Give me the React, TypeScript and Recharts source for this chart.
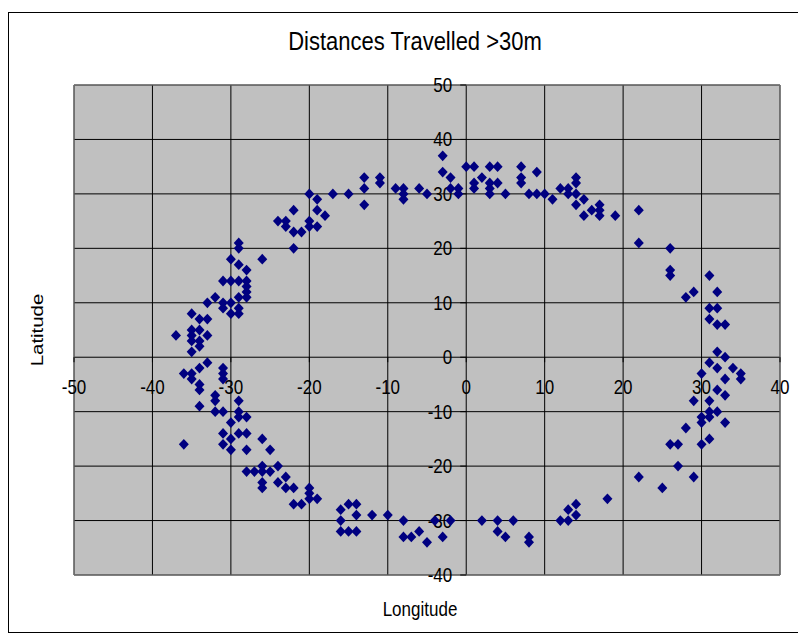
import React from 'react';
import {
  ScatterChart,
  Scatter,
  XAxis,
  YAxis,
  CartesianGrid,
  ReferenceDot,
  ReferenceArea,
} from 'recharts';

const chartTitle = 'Distances Travelled >30m';
const xAxisTitle = 'Longitude';
const yAxisTitle = 'Latitude';

const xTicks = [-50, -40, -30, -20, -10, 0, 10, 20, 30, 40];
const yTicks = [-40, -30, -20, -10, 0, 10, 20, 30, 40, 50];

// [longitude, latitude]
const northWest: [number, number][] = [
  [-29, 21], [-29, 20], [-30, 18], [-26, 18], [-29, 17], [-28, 16],
  [-24, 25], [-23, 25], [-23, 24], [-22, 27], [-22, 23], [-22, 20], [-21, 23],
  [-20, 30], [-20, 25], [-20, 24], [-19, 29], [-19, 27], [-19, 24], [-18, 26], [-17, 30],
];

const west: [number, number][] = [
  [-31, 14], [-30, 14], [-29, 14], [-28, 14], [-28, 13], [-28, 12], [-28, 11], [-29, 11],
  [-32, 11], [-33, 10], [-31, 10], [-30, 10], [-31, 9], [-29, 9], [-30, 8], [-29, 8],
  [-35, 8], [-34, 7], [-33, 7], [-35, 5], [-34, 5], [-37, 4], [-35, 4], [-33, 4],
  [-34, 3], [-35, 3], [-34, 2], [-35, 1], [-33, -1], [-31, -2], [-34, -2], [-36, -3],
  [-35, -3], [-35, -4], [-31, -3], [-31, -4], [-34, -5], [-34, -6], [-34, -9], [-32, -7],
  [-32, -8], [-32, -10], [-31, -10],
];

const southWest: [number, number][] = [
  [-29, -8], [-29, -10], [-29, -11], [-28, -11], [-30, -12], [-31, -14], [-30, -15],
  [-29, -14], [-28, -14], [-31, -16], [-30, -17], [-28, -17], [-36, -16], [-26, -15],
  [-25, -17], [-28, -21], [-27, -21], [-26, -20], [-26, -21], [-25, -21], [-24, -20],
  [-26, -23], [-26, -24], [-24, -23], [-23, -22], [-23, -24], [-22, -24], [-22, -27],
  [-21, -27], [-20, -24], [-20, -25], [-20, -26], [-19, -26],
];

const north: [number, number][] = [
  [-15, 30], [-13, 33], [-13, 31], [-13, 28], [-11, 33], [-11, 32], [-9, 31], [-8, 31],
  [-8, 30], [-8, 29], [-6, 31], [-5, 30], [-3, 37], [-3, 34], [-2, 33], [-2, 31],
  [-1, 31], [-1, 30], [0, 35], [1, 35], [1, 32], [1, 31], [2, 33], [3, 35], [4, 35],
  [3, 32], [3, 31], [3, 30], [4, 32], [5, 30], [7, 35], [7, 33], [7, 32], [8, 30],
  [9, 34], [9, 30], [10, 30], [11, 29], [12, 31], [13, 31], [13, 30], [14, 33], [14, 32],
  [14, 30], [14, 28], [15, 29], [15, 26], [16, 27], [17, 28], [17, 27], [17, 26],
  [19, 26], [22, 27],
];

const east: [number, number][] = [
  [22, 21], [26, 20], [26, 16], [26, 15], [29, 12], [28, 11], [31, 15], [32, 12],
  [31, 9], [32, 9], [31, 7], [32, 6], [33, 6], [32, 1], [33, 0], [31, -1], [32, -2],
  [34, -2], [35, -3], [35, -4], [30, -3], [33, -4], [32, -6], [33, -7], [29, -8],
  [31, -8], [31, -10], [32, -10], [30, -11], [30, -12], [31, -11], [33, -12], [28, -13],
  [26, -16], [27, -16], [30, -16], [31, -15], [27, -20],
];

const south: [number, number][] = [
  [-16, -28], [-15, -27], [-14, -27], [-16, -30], [-14, -29], [-16, -32], [-15, -32],
  [-14, -32], [-12, -29], [-10, -29], [-8, -30], [-8, -33], [-7, -33], [-6, -32],
  [-5, -34], [-4, -30], [-3, -33], [-2, -30], [2, -30], [4, -30], [4, -32], [5, -33],
  [6, -30], [8, -33], [8, -34], [12, -30], [13, -30], [13, -28], [14, -27], [14, -29],
  [18, -26], [22, -22], [29, -22], [25, -24],
];

const points = [...northWest, ...west, ...southWest, ...north, ...east, ...south].map(
  ([lon, lat]) => ({ lon, lat })
);

const FONT = '"Liberation Sans", Arial, Helvetica, sans-serif';
const STRETCH = 1.2;

const Diamond = (props: any) => {
  const { cx, cy } = props;
  const rx = 5;
  const ry = 5.4;
  return (
    <polygon
      points={`${cx},${cy - ry} ${cx + rx},${cy} ${cx},${cy + ry} ${cx - rx},${cy}`}
      fill="#000080"
    />
  );
};

const XTick = ({ cx, cy, label }: any) => (
  <g>
    <line x1={cx} y1={cy} x2={cx} y2={cy + 5} stroke="#000" strokeWidth={1} />
    <text
      transform={`translate(${cx},${cy + 37}) scale(1,${STRETCH})`}
      textAnchor="middle"
      fontFamily={FONT}
      fontSize={17}
      fill="#000"
    >
      {label}
    </text>
  </g>
);

const YTick = ({ cx, cy, label }: any) => (
  <g>
    <line x1={cx - 6} y1={cy} x2={cx} y2={cy} stroke="#000" strokeWidth={1} />
    <text
      transform={`translate(${cx - 14},${cy + 7}) scale(1,${STRETCH})`}
      textAnchor="end"
      fontFamily={FONT}
      fontSize={17}
      fill="#000"
    >
      {label}
    </text>
  </g>
);

export default function App() {
  return (
    <div
      style={{
        position: 'relative',
        width: 789,
        height: 619,
        border: '1px solid #000',
        marginTop: 4,
        background: '#fff',
        fontFamily: FONT,
      }}
    >
      <ScatterChart
        width={789}
        height={619}
        margin={{ top: 72, right: 18, bottom: 57, left: 65 }}
      >
        <CartesianGrid
          stroke="#000"
          strokeWidth={1}
          fill="#c0c0c0"
          fillOpacity={1}
          verticalValues={xTicks}
          horizontalValues={yTicks}
        />
        <XAxis
          type="number"
          dataKey="lon"
          domain={[-50, 40]}
          ticks={xTicks}
          axisLine={false}
          tickLine={false}
          tick={() => null}
          height={0}
        />
        <YAxis
          type="number"
          dataKey="lat"
          domain={[-40, 50]}
          ticks={yTicks}
          axisLine={false}
          tickLine={false}
          tick={() => null}
          width={0}
        />
        <ReferenceArea
          x1={-50}
          x2={40}
          y1={-40}
          y2={50}
          fill="none"
          fillOpacity={0}
          stroke="#808080"
          strokeWidth={1}
          ifOverflow="visible"
        />
        {xTicks.map((t) => (
          <ReferenceDot
            key={`x${t}`}
            x={t}
            y={0}
            r={1}
            ifOverflow="visible"
            shape={(p: any) => <XTick cx={p.cx} cy={p.cy} label={String(t)} />}
          />
        ))}
        {yTicks.map((t) => (
          <ReferenceDot
            key={`y${t}`}
            x={0}
            y={t}
            r={1}
            ifOverflow="visible"
            shape={(p: any) => <YTick cx={p.cx} cy={p.cy} label={String(t)} />}
          />
        ))}
        <Scatter data={points} shape={Diamond} isAnimationActive={false} />
      </ScatterChart>
      <div
        style={{
          position: 'absolute',
          left: 406,
          top: 29,
          transform: `translate(-50%,-50%) scaleY(${STRETCH})`,
          fontSize: 22,
          lineHeight: 1,
          whiteSpace: 'nowrap',
          color: '#000',
        }}
      >
        {chartTitle}
      </div>
      <div
        style={{
          position: 'absolute',
          left: 411,
          top: 596,
          transform: `translate(-50%,-50%) scaleY(${STRETCH})`,
          fontSize: 17,
          lineHeight: 1,
          whiteSpace: 'nowrap',
          color: '#000',
        }}
      >
        {xAxisTitle}
      </div>
      <div
        style={{
          position: 'absolute',
          left: 28,
          top: 317,
          transform: `translate(-50%,-50%) rotate(-90deg) scaleX(${STRETCH})`,
          fontSize: 17,
          lineHeight: 1,
          whiteSpace: 'nowrap',
          color: '#000',
        }}
      >
        {yAxisTitle}
      </div>
    </div>
  );
}
